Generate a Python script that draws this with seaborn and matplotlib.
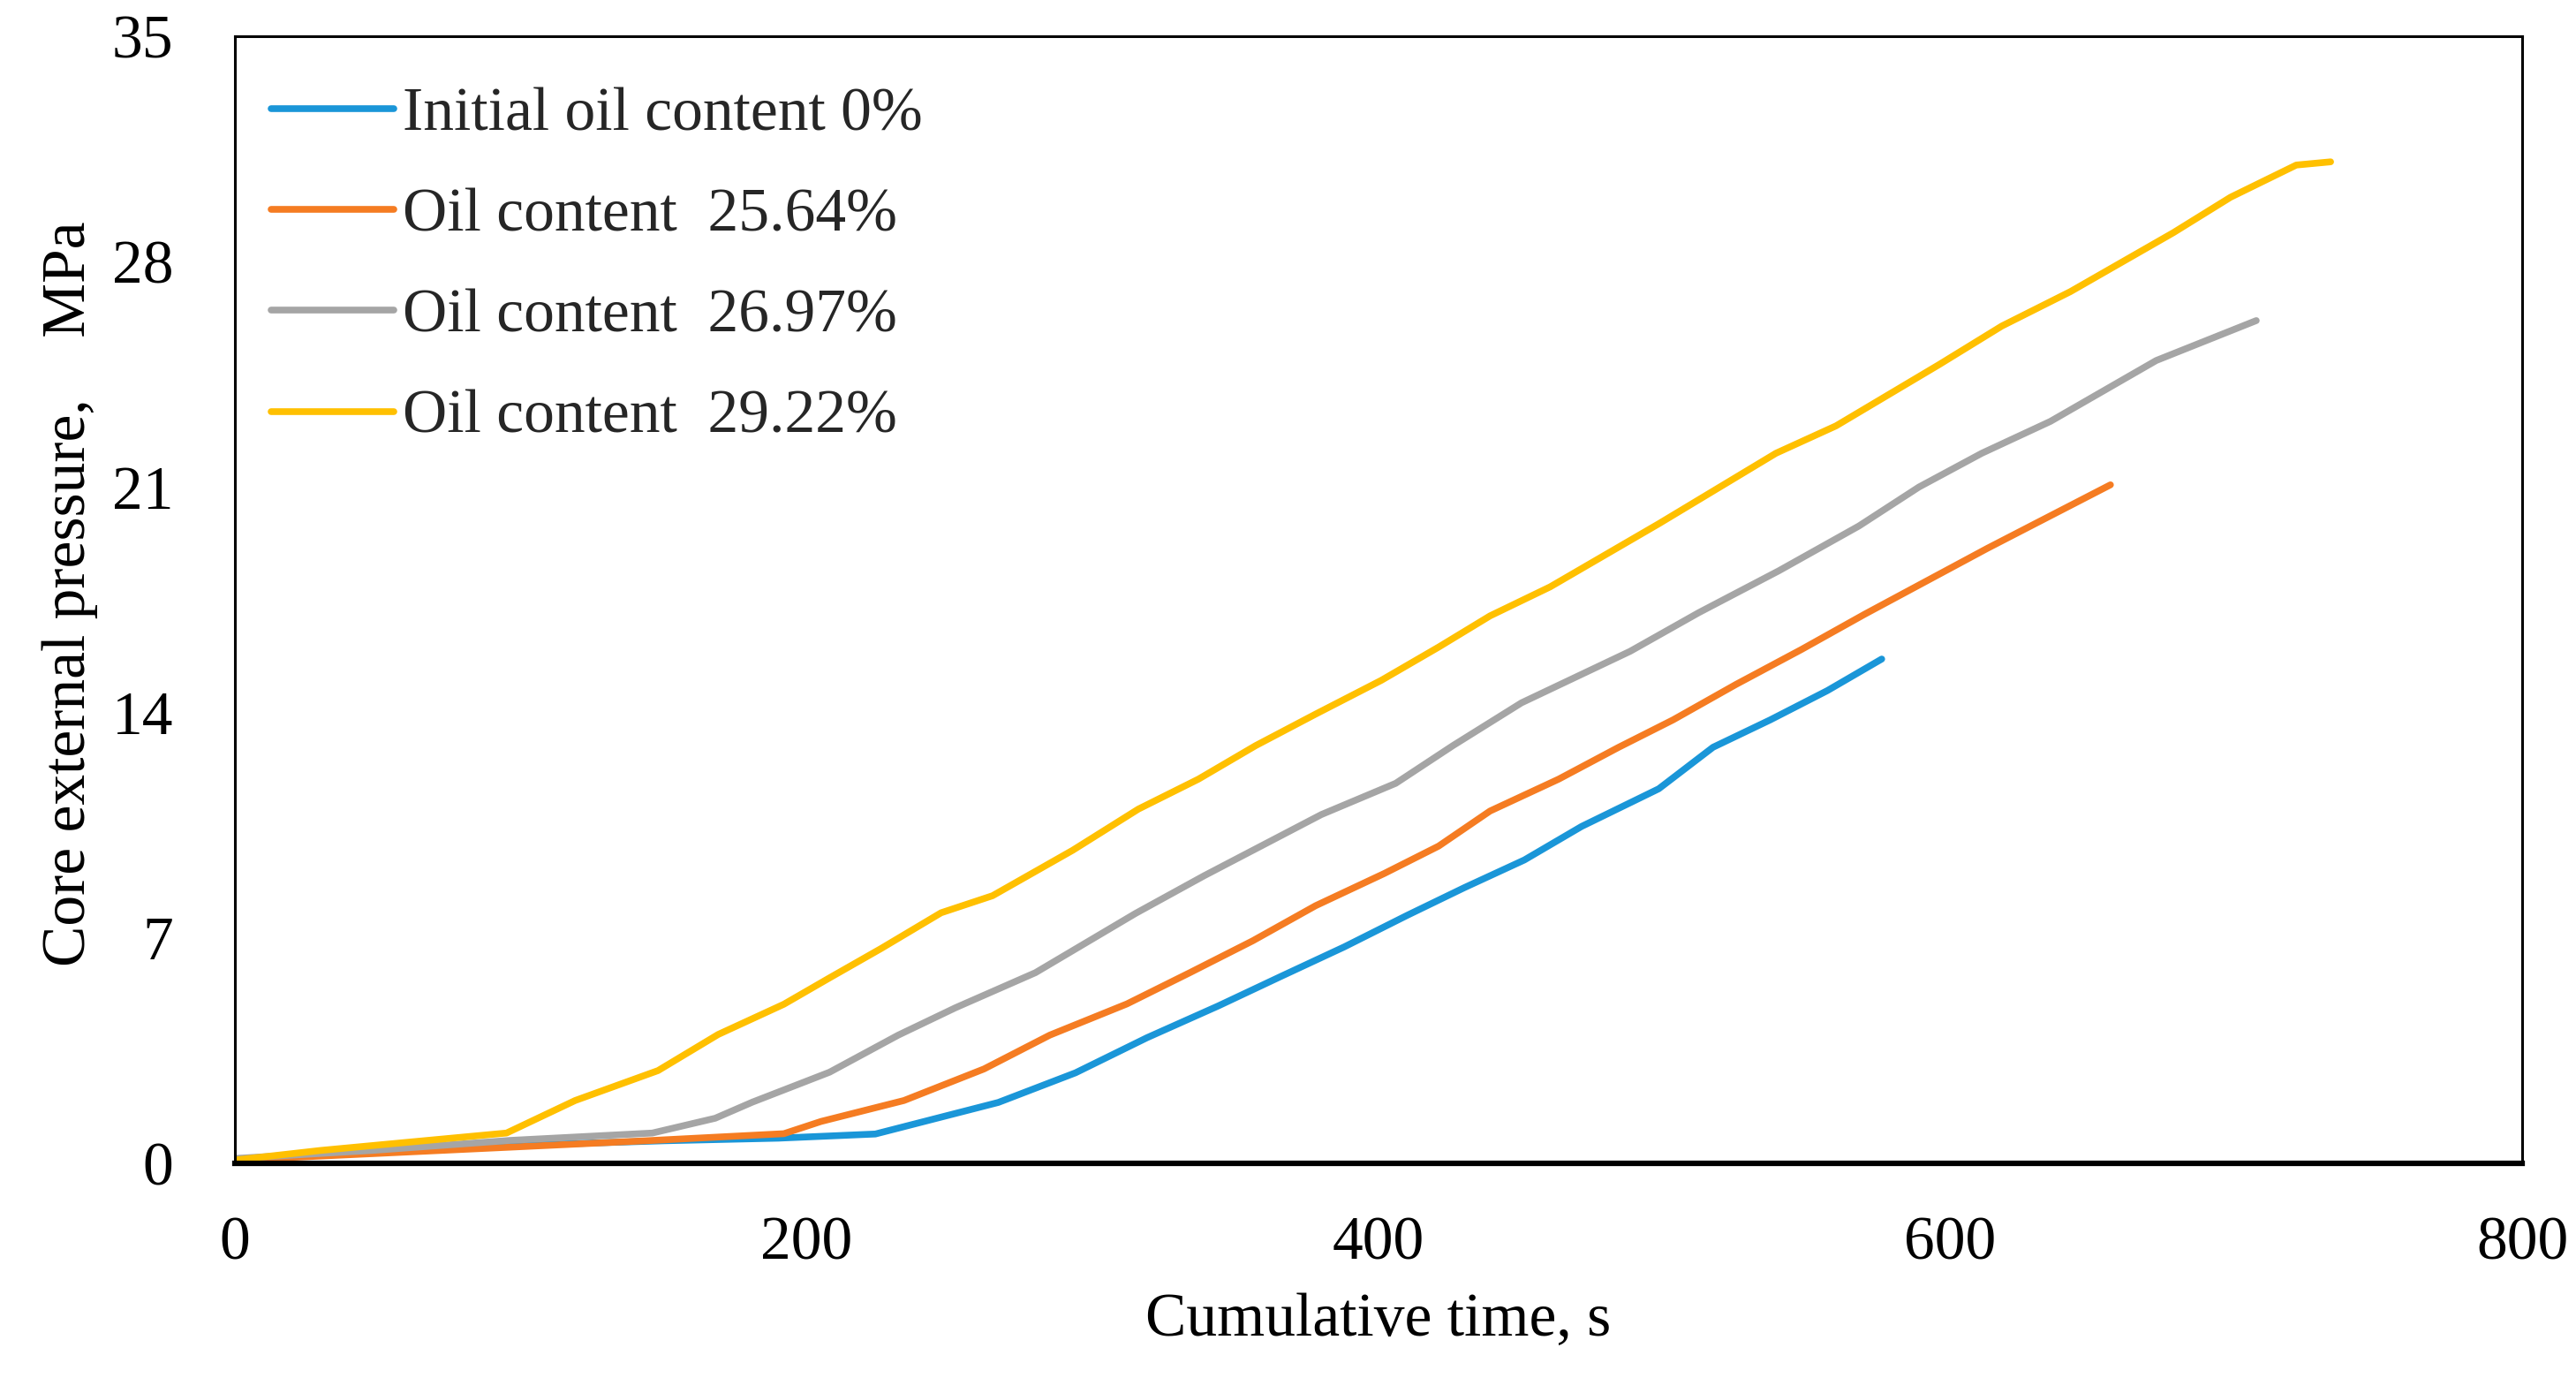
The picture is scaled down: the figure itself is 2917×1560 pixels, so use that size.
import matplotlib
matplotlib.use("Agg")
import matplotlib.pyplot as plt
import seaborn as sns
import pandas as pd

# Values (time in s, pressure in MPa).
t_0 = [0, 30, 60, 96, 150, 190, 224, 267, 294, 319, 344, 366, 388, 410, 430, 451, 471, 498, 517, 537, 557, 576]
p_0 = [0.1, 0.25, 0.4, 0.55, 0.7, 0.78, 0.91, 1.89, 2.81, 3.9, 4.89, 5.81, 6.72, 7.7, 8.56, 9.42, 10.46, 11.63, 12.92, 13.77, 14.68, 15.66]

t_2564 = [0, 48, 96, 146, 192, 205, 234, 262, 285, 312, 334, 356, 378, 402, 421, 439, 463, 484, 503, 525, 548, 570, 613, 656]
p_2564 = [0.1, 0.3, 0.5, 0.71, 0.92, 1.3, 1.95, 2.93, 3.98, 4.95, 5.92, 6.91, 8.0, 9.0, 9.85, 10.94, 11.93, 12.92, 13.77, 14.87, 15.96, 17.05, 19.1, 21.07]

t_2697 = [0, 48, 96, 146, 168, 181, 208, 232, 252, 280, 315, 339, 380, 406, 426, 450, 488, 512, 540, 568, 589, 611, 635, 672, 707]
p_2697 = [0.15, 0.4, 0.71, 0.94, 1.4, 1.9, 2.83, 3.98, 4.83, 5.92, 7.76, 8.93, 10.83, 11.8, 12.97, 14.3, 15.9, 17.1, 18.4, 19.79, 21.0, 22.05, 23.04, 24.93, 26.17]

t_2922 = [0, 30, 60, 95, 119, 148, 169, 192, 208, 226, 247, 265, 293, 316, 337, 357, 378, 401, 421, 439, 460, 498, 539, 560, 596, 618, 642, 678, 698, 721, 733]
p_2922 = [0.1, 0.4, 0.65, 0.94, 1.95, 2.88, 4.0, 4.94, 5.76, 6.67, 7.78, 8.31, 9.72, 11.0, 11.93, 12.97, 13.95, 15.0, 16.03, 17.0, 17.9, 19.86, 22.05, 22.9, 24.8, 26.0, 27.07, 28.9, 30.0, 31.0, 31.1]

labels = ["Initial oil content 0%", "Oil content  25.64%", "Oil content  26.97%", "Oil content  29.22%"]
colors = ["#1A96D8", "#F57C22", "#A5A5A5", "#FFC000"]

x_ticks = [0, 200, 400, 600, 800]
y_ticks = [0, 7, 14, 21, 28, 35]

frames = []
for lab, t, p in zip(labels, [t_0, t_2564, t_2697, t_2922], [p_0, p_2564, p_2697, p_2922]):
    frames.append(pd.DataFrame({"time": t, "pressure": p, "series": lab}))
df = pd.concat(frames, ignore_index=True)

sns.set_theme(style="white")
plt.rcParams["font.family"] = ["Liberation Serif", "DejaVu Serif"]

fig = plt.figure(figsize=(29.17, 15.6), dpi=100)
ax = fig.add_axes([0.0912, 0.1558, 0.8879, 0.8179])

sns.lineplot(data=df, x="time", y="pressure", hue="series", hue_order=labels,
             palette=colors, linewidth=5.5, ax=ax, estimator=None, sort=False)

ax.set_xlim(0, 800)
ax.set_ylim(0, 35)
ax.set_xticks(x_ticks)
ax.set_yticks(y_ticks)
ax.tick_params(axis="both", length=0, labelsize=50, colors="black")
ax.tick_params(axis="x", pad=43)
ax.tick_params(axis="y", pad=50)

for side in ["top", "right", "left"]:
    ax.spines[side].set_color("black")
    ax.spines[side].set_linewidth(2.2)
ax.spines["bottom"].set_color("black")
ax.spines["bottom"].set_linewidth(4.5)

ax.set_xlabel("Cumulative time, s", fontsize=50, color="black")
ax.set_ylabel("Core external pressure,    MPa", fontsize=50, color="black")
ax.xaxis.set_label_coords(0.5, -0.115)
ax.xaxis.label.set_va("top")
ax.yaxis.set_label_coords(-0.06, 0.505)

leg = ax.legend(loc="upper left", bbox_to_anchor=(0.0158, 0.955), frameon=False,
                fontsize=50, handlelength=2.0, handletextpad=0.15,
                labelspacing=0.73, borderpad=0, borderaxespad=0)
for line in leg.get_lines():
    line.set_linewidth(5.5)

fig.savefig("out.png", dpi=100)
